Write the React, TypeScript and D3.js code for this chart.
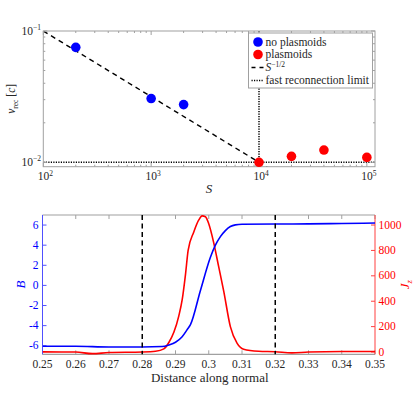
import React from "react";
import * as d3 from "d3";

const width = 415;
const height = 399;

// top panel: reconnection rate vs Lundquist number
const noPlasmoidS = [200, 1000, 2000];
const noPlasmoidV = [0.0751, 0.0306, 0.0275];
const plasmoidS = [1e4, 2e4, 4e4, 1e5];
const plasmoidV = [0.01, 0.0111, 0.0124, 0.0109];
const scalingS = [1e2, 1.2e4];
const scalingV = [0.1, 0.00913];
const fastLimit = 0.01;
const criticalS = 1e4;
const sTicks = [1e2, 1e3, 1e4, 1e5];
const vTicks = [0.01, 0.1];

// bottom panel: profile along normal
const distance = [0.25, 0.26, 0.27, 0.28, 0.286, 0.288, 0.29, 0.292, 0.2935, 0.2945, 0.2975, 0.3005, 0.302, 0.3035, 0.305, 0.3065, 0.308, 0.31, 0.32, 0.33, 0.34, 0.35];
const bField = [-6.05, -6.05, -6.12, -6.12, -6.08, -5.92, -5.65, -5.1, -4.4, -3.9, -0.5, 2.8, 4.0, 4.85, 5.45, 5.85, 6.02, 6.08, 6.1, 6.12, 6.15, 6.2];
const jDistance = [0.25, 0.26, 0.265, 0.27, 0.28, 0.284, 0.2865, 0.288, 0.2895, 0.291, 0.292, 0.293, 0.2938, 0.2955, 0.297, 0.298, 0.299, 0.3, 0.3015, 0.303, 0.3045, 0.3065, 0.3085, 0.3105, 0.315, 0.32, 0.325, 0.33, 0.34, 0.35];
const jz = [1, 0, -13, -4, 0, 6, 25, 75, 155, 285, 410, 610, 800, 945, 1040, 1072, 1065, 1010, 860, 670, 480, 200, 70, 22, 6, 2, -7, 0, 4, 4];
const distTicks = [0.25, 0.26, 0.27, 0.28, 0.29, 0.3, 0.31, 0.32, 0.33, 0.34, 0.35];
const bTicks = [-6, -4, -2, 0, 2, 4, 6];
const jTicks = [0, 200, 400, 600, 800, 1000];
const markerLines = [0.28, 0.32];

const font = "Liberation Serif, Times New Roman, DejaVu Serif, serif";
const frame = "#a0a0a0";
const textCol = "#262626";
const blue = "#0000ff";
const red = "#ff0000";
const axBlue = "#5050ff";
const axRed = "#ff4040";

const top = { left: 43.3, right: 375, top: 31, bottom: 166.7 };
const bot = { left: 42.5, right: 375, top: 215, bottom: 354.3 };

const sup = (base: string, exp: string) => (
  <>
    {base}
    <tspan dy={-4.5} fontSize={7.5}>{exp}</tspan>
  </>
);

export default function App() {
  const x = d3.scaleLog().domain([100, 1.19e5]).range([top.left, top.right]);
  const y = d3.scaleLog().domain([0.00926, 0.1]).range([top.bottom, top.top]);

  const xMinor: number[] = [];
  [100, 1000, 10000, 100000].forEach((d) => {
    for (let k = 2; k <= 9; k++) if (d * k < 1.19e5) xMinor.push(d * k);
  });
  const yMinor: number[] = [];
  for (let k = 2; k <= 9; k++) yMinor.push(0.01 * k);

  const line2 = d3.line<number>().x((d, i) => x(scalingS[i])).y((d) => y(d));

  const xb = d3.scaleLinear().domain([0.25, 0.35]).range([bot.left, bot.right]);
  const yb = d3.scaleLinear().domain([-6.85, 7.0]).range([bot.bottom, bot.top]);
  const yj = d3.scaleLinear().domain([-18, 1079]).range([bot.bottom, bot.top]);

  const bLine = d3
    .line<number>()
    .x((d, i) => xb(distance[i]))
    .y((d) => yb(d))
    .curve(d3.curveMonotoneX);
  const jLine = d3
    .line<number>()
    .x((d, i) => xb(jDistance[i]))
    .y((d) => yj(d))
    .curve(d3.curveMonotoneX);

  const legendX = 248.5;
  const legendY = 33;
  const legendRows = [42, 54.5, 67.5, 80.5];

  return (
    <svg
      width={width}
      height={height}
      style={{ position: "absolute", left: 0, top: 0, background: "#fff", fontFamily: font }}
    >
      <defs>
        <clipPath id="topClip">
          <rect x={top.left} y={top.top} width={top.right - top.left} height={top.bottom - top.top} />
        </clipPath>
        <clipPath id="botClip">
          <rect x={bot.left} y={bot.top - 2} width={bot.right - bot.left} height={bot.bottom - bot.top + 4} />
        </clipPath>
      </defs>

      {/* ---------- top panel ---------- */}
      <g clipPath="url(#topClip)">
        <path d={line2(scalingV) || ""} fill="none" stroke="#000" strokeWidth={1.4} strokeDasharray="5,4" />
        <line x1={top.left} x2={top.right} y1={y(fastLimit)} y2={y(fastLimit)} stroke="#000" strokeWidth={1.5} strokeDasharray="1.2,1.3" />
        <line x1={x(criticalS)} x2={x(criticalS)} y1={top.top} y2={top.bottom} stroke="#000" strokeWidth={1.5} strokeDasharray="1.2,1.3" />
      </g>

      {/* ticks */}
      {sTicks.map((t) => (
        <g key={"sx" + t}>
          <line x1={x(t)} x2={x(t)} y1={top.bottom} y2={top.bottom - 4} stroke={frame} />
          <line x1={x(t)} x2={x(t)} y1={top.top} y2={top.top + 4} stroke={frame} />
          <text x={x(t) + 2} y={180} textAnchor="middle" fontSize={11.5} fill={textCol}>
            {sup("10", String(Math.round(Math.log10(t))))}
          </text>
        </g>
      ))}
      {xMinor.map((t) => (
        <g key={"sxm" + t}>
          <line x1={x(t)} x2={x(t)} y1={top.bottom} y2={top.bottom - 2} stroke={frame} />
          <line x1={x(t)} x2={x(t)} y1={top.top} y2={top.top + 2} stroke={frame} />
        </g>
      ))}
      {vTicks.map((t) => (
        <g key={"vy" + t}>
          <line x1={top.left} x2={top.left + 4} y1={y(t)} y2={y(t)} stroke={frame} />
          <line x1={top.right} x2={top.right - 4} y1={y(t)} y2={y(t)} stroke={frame} />
          <text x={41} y={y(t) + 3.5} textAnchor="end" fontSize={11.5} fill={textCol}>
            {sup("10", "\u2212" + String(Math.round(-Math.log10(t))))}
          </text>
        </g>
      ))}
      {yMinor.map((t) => (
        <g key={"vym" + t}>
          <line x1={top.left} x2={top.left + 2} y1={y(t)} y2={y(t)} stroke={frame} />
          <line x1={top.right} x2={top.right - 2} y1={y(t)} y2={y(t)} stroke={frame} />
        </g>
      ))}
      <rect x={top.left} y={top.top} width={top.right - top.left} height={top.bottom - top.top} fill="none" stroke={frame} strokeWidth={1} />

      {noPlasmoidV.map((v, i) => (
        <circle key={"b" + i} cx={x(noPlasmoidS[i])} cy={y(v)} r={4.8} fill={blue} />
      ))}
      {plasmoidV.map((v, i) => (
        <circle key={"r" + i} cx={x(plasmoidS[i])} cy={y(v)} r={4.8} fill={red} />
      ))}

      {/* legend */}
      <rect x={legendX} y={legendY} width={124} height={55} fill="#fff" stroke={frame} strokeWidth={1} />
      <circle cx={legendX + 9.5} cy={legendRows[0]} r={4.8} fill={blue} />
      <circle cx={legendX + 9.5} cy={legendRows[1]} r={4.8} fill={red} />
      <line x1={legendX + 3} x2={legendX + 16} y1={legendRows[2]} y2={legendRows[2]} stroke="#000" strokeWidth={1.4} strokeDasharray="4,4" />
      <line x1={legendX + 3} x2={legendX + 15} y1={legendRows[3]} y2={legendRows[3]} stroke="#000" strokeWidth={1.5} strokeDasharray="1.2,1.3" />
      <text fontSize={11.5} fill={textCol}>
        <tspan x={legendX + 17} y={legendRows[0] + 3.5}>no plasmoids</tspan>
        <tspan x={legendX + 17} y={legendRows[1] + 3.5}>plasmoids</tspan>
      </text>
      <text x={legendX + 17} y={legendRows[2] + 3.5} fontSize={11.5} fill={textCol}>
        <tspan fontStyle="italic">S</tspan>
        <tspan dy={-4.5} fontSize={7.5}>{"\u22121/2"}</tspan>
      </text>
      <text x={legendX + 17} y={legendRows[3] + 3.5} fontSize={11.5} fill={textCol}>
        fast reconnection limit
      </text>

      {/* axis labels */}
      <text x={209} y={193} textAnchor="middle" fontSize={13} fontStyle="italic" fill={textCol}>
        S
      </text>
      <text transform={`translate(15,${(top.top + top.bottom) / 2}) rotate(-90)`} textAnchor="middle" fontSize={11.5} fill={textCol}>
        <tspan fontStyle="italic">v</tspan>
        <tspan dy={2.5} fontSize={7.5}>rec</tspan>
        <tspan dy={-2.5}> [</tspan>
        <tspan fontStyle="italic">c</tspan>
        <tspan>]</tspan>
      </text>

      {/* ---------- bottom panel ---------- */}
      <line x1={bot.left} x2={bot.right} y1={bot.top} y2={bot.top} stroke={frame} strokeWidth={1.2} />
      <line x1={bot.left} x2={bot.right} y1={bot.bottom} y2={bot.bottom} stroke={frame} strokeWidth={1.2} />
      {distTicks.map((t) => (
        <g key={"d" + t}>
          <line x1={xb(t)} x2={xb(t)} y1={bot.bottom} y2={bot.bottom - 4} stroke={frame} />
          <line x1={xb(t)} x2={xb(t)} y1={bot.top} y2={bot.top + 4} stroke={frame} />
          <text x={xb(t)} y={368} textAnchor="middle" fontSize={11.5} fill={textCol}>
            {d3.format("~g")(t)}
          </text>
        </g>
      ))}
      <line x1={bot.left} x2={bot.left} y1={bot.top} y2={bot.bottom} stroke={axBlue} strokeWidth={1} />
      {bTicks.map((t) => (
        <g key={"bt" + t}>
          <line x1={bot.left} x2={bot.left + 4} y1={yb(t)} y2={yb(t)} stroke={axBlue} />
          <text x={38.5} y={yb(t) + 3.5} textAnchor="end" fontSize={11.5} fill={blue}>
            {t < 0 ? "-" + Math.abs(t) : String(t)}
          </text>
        </g>
      ))}
      <line x1={bot.right} x2={bot.right} y1={bot.top} y2={bot.bottom} stroke={axRed} strokeWidth={1} />
      {jTicks.map((t) => (
        <g key={"jt" + t}>
          <line x1={bot.right} x2={bot.right - 4} y1={yj(t)} y2={yj(t)} stroke={axRed} />
          <text x={378.5} y={yj(t) + 3.5} textAnchor="start" fontSize={11.5} fill={red}>
            {t}
          </text>
        </g>
      ))}

      <g clipPath="url(#botClip)">
        <path d={jLine(jz) || ""} fill="none" stroke={red} strokeWidth={1.6} />
        <path d={bLine(bField) || ""} fill="none" stroke={blue} strokeWidth={1.6} />
        {markerLines.map((m) => (
          <line key={"m" + m} x1={xb(m)} x2={xb(m)} y1={bot.top} y2={bot.bottom} stroke="#000" strokeWidth={1.5} strokeDasharray="5,3.5" />
        ))}
      </g>

      <text x={(bot.left + bot.right) / 2 + 1} y={381.5} textAnchor="middle" fontSize={13} fill={textCol}>
        Distance along normal
      </text>
      <text transform={`translate(25,${(bot.top + bot.bottom) / 2}) rotate(-90)`} textAnchor="middle" fontSize={13} fontStyle="italic" fill={blue}>
        B
      </text>
      <text transform={`translate(409,${(bot.top + bot.bottom) / 2}) rotate(-90)`} textAnchor="middle" fontSize={13} fill={red}>
        <tspan fontStyle="italic">J</tspan>
        <tspan dy={2.5} fontSize={8.5} fontStyle="italic">z</tspan>
      </text>
    </svg>
  );
}
